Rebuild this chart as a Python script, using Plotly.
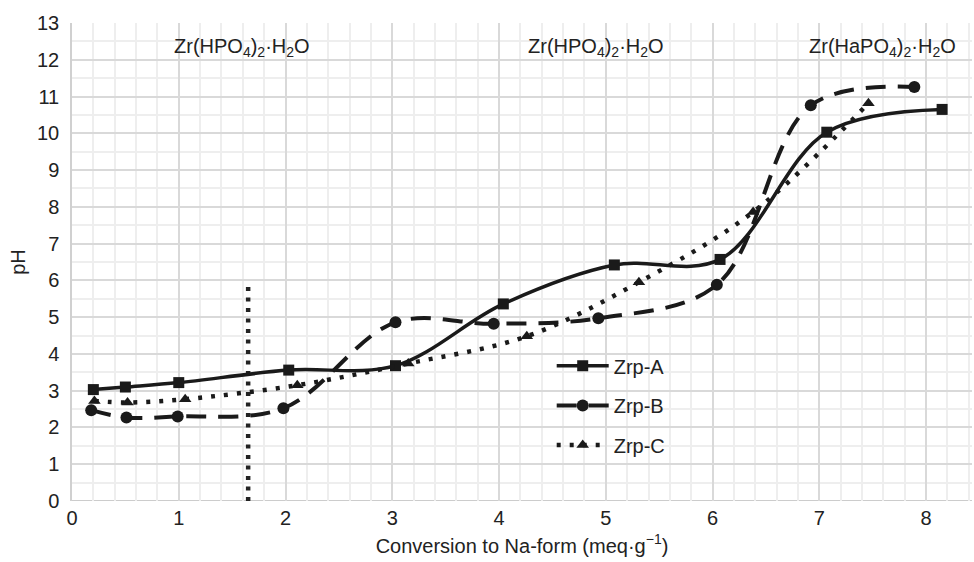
import plotly.graph_objects as go

# ---- data ----
a_x = [0.2, 0.5, 1.0, 2.03, 3.03, 4.04, 5.08, 6.07, 7.07, 8.15]
a_y = [3.03, 3.1, 3.22, 3.56, 3.68, 5.36, 6.42, 6.57, 10.03, 10.65]

b_x = [0.18, 0.51, 0.99, 1.98, 3.03, 3.95, 4.93, 6.04, 6.92, 7.89]
b_y = [2.47, 2.27, 2.3, 2.52, 4.86, 4.82, 4.97, 5.88, 10.76, 11.26]

c_x = [0.21, 0.52, 1.06, 2.11, 3.15, 4.26, 5.31, 6.38, 7.46]
c_y = [2.72, 2.68, 2.77, 3.15, 3.74, 4.48, 5.95, 7.86, 10.82]

boundary_x = [1.65, 1.65]
boundary_y = [0, 5.83]

phase_labels = ["Zr(HPO<sub>4</sub>)<sub>2</sub>·H<sub>2</sub>O",
                "Zr(HPO<sub>4</sub>)<sub>2</sub>·H<sub>2</sub>O",
                "Zr(HaPO<sub>4</sub>)<sub>2</sub>·H<sub>2</sub>O"]
phase_x = [1.59, 4.91, 7.59]
phase_y = [12.33, 12.33, 12.33]

FONT = "Liberation Sans, Arial, sans-serif"
TXT = "#222222"
FS = 20

fig = go.Figure()

fig.add_trace(go.Scatter(
    x=boundary_x, y=boundary_y, mode="lines", showlegend=False, hoverinfo="skip",
    line=dict(color="#222222", width=4.5, dash="4px,6.5px")))

fig.add_trace(go.Scatter(
    x=a_x, y=a_y, name="Zrp-A", mode="lines+markers", legend="legend",
    line=dict(color="#1a1a1a", width=3.5, shape="spline", smoothing=1),
    marker=dict(symbol="square", size=11, color="#1a1a1a")))

fig.add_trace(go.Scatter(
    x=b_x, y=b_y, name="Zrp-B", mode="lines+markers", legend="legend2",
    line=dict(color="#1a1a1a", width=4, shape="spline", smoothing=1, dash="20px,12px"),
    marker=dict(symbol="circle", size=12, color="#1a1a1a")))

fig.add_trace(go.Scatter(
    x=c_x, y=c_y, name="Zrp-C", mode="lines+markers", legend="legend3",
    line=dict(color="#1a1a1a", width=4.5, shape="spline", smoothing=1, dash="4px,9px"),
    marker=dict(symbol="triangle-up", size=11, color="#1a1a1a")))

for t, xx, yy in zip(phase_labels, phase_x, phase_y):
    fig.add_annotation(x=xx, y=yy, text=t, showarrow=False, xref="x", yref="y",
                       font=dict(family=FONT, size=FS, color=TXT))

legend_common = dict(bgcolor="rgba(0,0,0,0)", borderwidth=0, itemwidth=52,
                     font=dict(family=FONT, size=FS, color=TXT),
                     xanchor="left", yanchor="middle")

fig.update_layout(
    width=974, height=562,
    margin=dict(l=72, r=2, t=23, b=61),
    paper_bgcolor="white", plot_bgcolor="white",
    font=dict(family=FONT, size=FS, color=TXT),
    legend=dict(x=0.533, y=0.283, **legend_common),
    legend2=dict(x=0.533, y=0.2, **legend_common),
    legend3=dict(x=0.533, y=0.117, **legend_common),
    xaxis=dict(range=[0, 8.43], dtick=1, tick0=0, showgrid=True, gridcolor="#d9d9d9",
               gridwidth=1.5, zeroline=False, showline=False, ticks="",
               ticklabelstandoff=3,
               minor=dict(dtick=0.2, showgrid=True, gridcolor="#eeeeee", gridwidth=1.5),
               title=dict(text="Conversion to Na-form (meq·g<sup>−1</sup>)",
                          font=dict(family=FONT, size=FS, color=TXT), standoff=10),
               tickfont=dict(family=FONT, size=FS, color=TXT)),
    yaxis=dict(range=[0, 13], dtick=1, tick0=0, showgrid=True, gridcolor="#d9d9d9",
               gridwidth=1.5, zeroline=False, showline=True, linecolor="#d0d0d0", linewidth=1.5,
               ticks="", ticklabelstandoff=7,
               minor=dict(dtick=0.5, showgrid=True, gridcolor="#eeeeee", gridwidth=1.5),
               title=dict(text="pH", font=dict(family=FONT, size=FS, color=TXT), standoff=6),
               tickfont=dict(family=FONT, size=FS, color=TXT)),
)
fig.add_shape(type="line", xref="paper", yref="y", x0=0, x1=1, y0=0, y1=0,
              line=dict(color="#cccccc", width=2), layer="below")

fig.write_html("out.html")
